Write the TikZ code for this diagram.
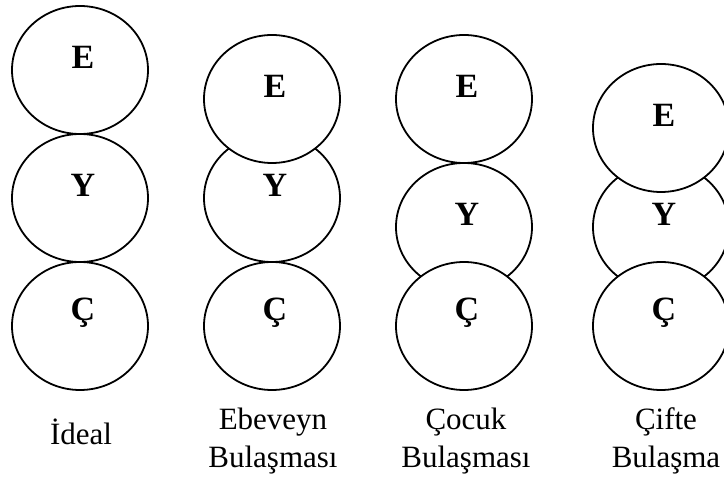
\documentclass[tikz,border=0pt]{standalone}
\usepackage{fontspec}
\setmainfont{Liberation Serif}
\usetikzlibrary{shapes.geometric}

\begin{document}
\begin{tikzpicture}[x=1pt,y=-1pt,
	ring/.style={draw, fill=white, line width=1.8pt, ellipse, inner sep=0pt, minimum width=136pt, minimum height=128pt},
	letter/.style={font=\fontsize{34}{34}\selectfont\bfseries, xshift=3pt, yshift=13pt},
	caption/.style={font=\fontsize{31}{38}\selectfont, align=center, anchor=base}]
	%\draw[help lines] (0,0) grid[step=50] (724,478);
	\useasboundingbox (0,0) rectangle (724,478);
	% Ideal
	\node[ring, label={[letter]center:Y}] (y1) at (80,198) {};
	\node[ring, label={[letter]center:E}] (e1) at (80,70) {};
	\node[ring, label={[letter]center:Ç}] (c1) at (80,326) {};
	\node[caption] (t1) at (81,445) {İdeal};
	% Ebeveyn
	\node[ring, label={[letter]center:Y}] (y2) at (272,198) {};
	\node[ring, label={[letter]center:E}] (e2) at (272,99) {};
	\node[ring, label={[letter]center:Ç}] (c2) at (272,326) {};
	\node[caption] (t2) at (273,468) {Ebeveyn\\Bulaşması};
	% Cocuk
	\node[ring, label={[letter]center:Y}] (y3) at (464,227) {};
	\node[ring, label={[letter]center:E}] (e3) at (464,99) {};
	\node[ring, label={[letter]center:Ç}] (c3) at (464,326) {};
	\node[caption] (t3) at (466,468) {Çocuk\\Bulaşması};
	% Cifte
	\node[ring, label={[letter]center:Y}] (y4) at (661,227) {};
	\node[ring, label={[letter]center:E}] (e4) at (661,128) {};
	\node[ring, label={[letter]center:Ç}] (c4) at (661,326) {};
	\node[caption] (t4) at (666,468) {Çifte\\Bulaşma};
\end{tikzpicture}
\end{document}
